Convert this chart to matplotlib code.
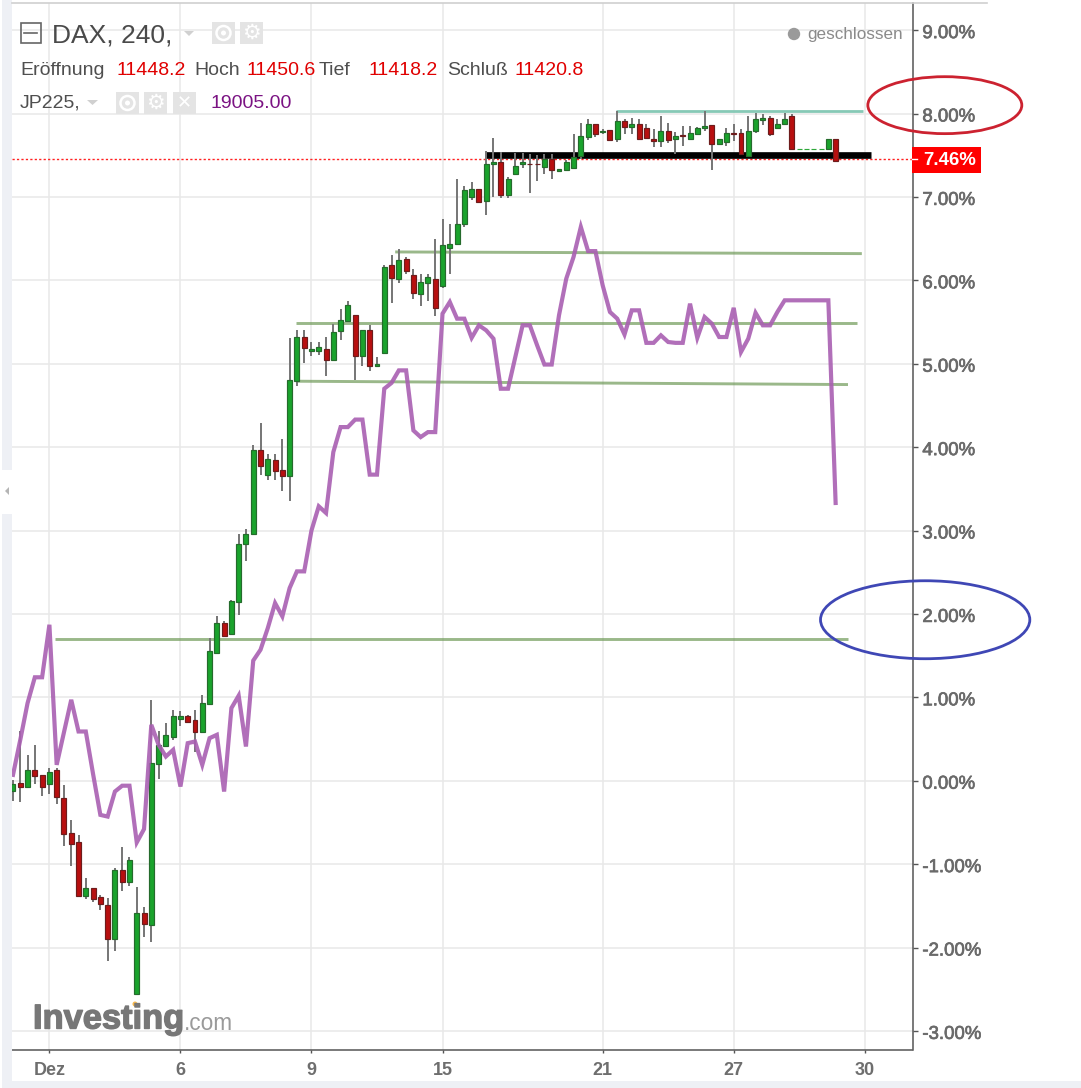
import numpy as np
import matplotlib
matplotlib.use("Agg")
import matplotlib.pyplot as plt
import matplotlib.patheffects as pe
from matplotlib.patches import Ellipse, Rectangle, Circle, Polygon
from matplotlib.transforms import ScaledTranslation

plt.rcParams['font.family'] = ['Liberation Sans', 'DejaVu Sans']

# DAX candles, values in percent
dax_open = [-.12, -.03, -.08, .13, .07, -.04, .13, -.21, -.63, -.73,
            -1.38, -1.29, -1.39, -1.49, -1.90, -1.07, -1.22, -2.56, -1.59, -1.73,
            .20, .42, .52, .74, .77, .73, .58, .92, 1.53, 1.89,
            1.76, 2.14, 2.84, 2.96, 3.96, 3.67, 3.84, 3.72, 3.65, 4.79,
            5.32, 5.15, 5.15, 5.18, 5.05, 5.39, 5.51, 5.58, 5.09, 5.40,
            4.97, 5.13, 6.18, 6.01, 6.26, 6.06, 5.83, 5.97, 6.02, 5.93,
            6.39, 6.44, 6.68, 7.00, 7.10, 6.95, 7.39, 7.42, 7.02, 7.27,
            7.39, 7.40, 7.40, 7.36, 7.45, 7.31, 7.32, 7.35, 7.49, 7.72,
            7.87, 7.78, 7.80, 7.70, 7.91, 7.84, 7.87, 7.83, 7.69, 7.67,
            7.79, 7.69, 7.74, 7.70, 7.76, 7.83, 7.86, 7.64, 7.66, 7.77,
            7.77, 7.49, 7.79, 7.92, 7.95, 7.83, 7.88, 7.97, 7.57, 7.57,
            7.57, 7.57, 7.57, 7.69]
dax_high = [.01, .59, .31, .43, .07, .15, .15, -.05, -.47, -.65,
            -1.17, -1.29, -1.37, -1.41, -1.05, -.79, -.91, -1.27, -1.51, .97,
            .59, .69, .85, .83, .79, .85, 1.03, 1.71, 1.97, 1.91,
            2.17, 2.96, 3.02, 4.02, 4.29, 3.92, 3.92, 4.10, 5.31, 5.41,
            5.41, 5.26, 5.26, 5.32, 5.48, 5.66, 5.75, 5.58, 5.40, 5.46,
            5.08, 6.18, 6.30, 6.38, 6.28, 6.14, 6.08, 6.08, 6.49, 6.73,
            6.68, 7.22, 7.13, 7.18, 7.10, 7.55, 7.71, 7.54, 7.24, 7.53,
            7.53, 7.52, 7.50, 7.51, 7.51, 7.33, 7.44, 7.75, 7.89, 7.93,
            7.87, 7.82, 7.80, 8.03, 7.93, 7.95, 7.93, 7.87, 7.81, 7.97,
            7.89, 7.78, 7.85, 7.85, 7.84, 8.03, 7.86, 7.70, 7.83, 7.87,
            7.81, 7.97, 8.01, 7.99, 7.97, 7.93, 8.01, 7.99, 7.57, 7.57,
            7.57, 7.57, 7.69, 7.70]
dax_low = [-.24, -.26, -.08, -.04, -.18, -.16, -.28, -.78, -1.02, -1.38,
           -1.42, -1.46, -1.55, -2.16, -2.04, -1.32, -1.26, -2.56, -1.88, -1.94,
           .02, .42, .49, .66, .70, .35, .58, .92, 1.53, 1.73,
           1.76, 1.99, 2.64, 2.96, 3.67, 3.61, 3.60, 3.47, 3.35, 4.73,
           5.01, 5.09, 5.10, 4.85, 5.05, 5.29, 5.51, 4.80, 4.97, 4.91,
           4.97, 5.13, 5.73, 5.97, 6.07, 5.77, 5.69, 5.75, 5.57, 5.91,
           6.07, 6.44, 6.64, 6.96, 6.94, 6.78, 7.00, 6.99, 6.99, 7.27,
           7.35, 7.05, 7.19, 7.27, 7.21, 7.30, 7.31, 7.35, 7.46, 7.68,
           7.72, 7.76, 7.68, 7.66, 7.75, 7.75, 7.70, 7.71, 7.60, 7.60,
           7.65, 7.51, 7.61, 7.68, 7.75, 7.79, 7.32, 7.63, 7.61, 7.67,
           7.51, 7.48, 7.77, 7.86, 7.73, 7.81, 7.87, 7.57, 7.57, 7.57,
           7.57, 7.57, 7.57, 7.42]
dax_close = [-.04, -.08, .13, .06, -.08, .11, -.20, -.64, -.76, -1.38,
             -1.29, -1.42, -1.48, -1.90, -1.07, -1.22, -.95, -1.59, -1.72, .21,
             .43, .55, .77, .77, .70, .58, .93, 1.55, 1.89, 1.73,
             2.15, 2.84, 2.96, 3.96, 3.77, 3.86, 3.71, 3.65, 4.80, 5.32,
             5.19, 5.18, 5.20, 5.05, 5.38, 5.52, 5.70, 5.09, 5.40, 4.97,
             5.00, 6.16, 6.03, 6.24, 6.11, 5.85, 5.98, 6.04, 5.67, 6.42,
             6.44, 6.68, 7.08, 7.10, 6.94, 7.39, 7.42, 7.02, 7.22, 7.37,
             7.42, 7.39, 7.39, 7.45, 7.32, 7.33, 7.42, 7.48, 7.73, 7.87,
             7.76, 7.79, 7.68, 7.91, 7.84, 7.87, 7.70, 7.71, 7.67, 7.79,
             7.68, 7.73, 7.73, 7.77, 7.83, 7.85, 7.64, 7.69, 7.77, 7.76,
             7.51, 7.79, 7.93, 7.95, 7.76, 7.87, 7.93, 7.57, 7.57, 7.57,
             7.57, 7.57, 7.69, 7.43]

# JP225 compare line, percent
jp225 = [.07, .49, .93, 1.24, 1.24, 1.87, .19, .58, .97, .59,
         .59, .08, -.41, -.43, -.13, -.06, -.06, -.74, -.58, .67,
         .43, .29, .37, -.07, .45, .47, .19, .51, .55, -.13,
         .87, 1.02, .41, 1.44, 1.57, 1.83, 2.13, 1.97, 2.31, 2.51,
         2.51, 3.00, 3.29, 3.21, 3.94, 4.24, 4.24, 4.33, 4.33, 3.67,
         3.67, 4.70, 4.77, 4.92, 4.92, 4.20, 4.12, 4.18, 4.18, 5.60,
         5.74, 5.54, 5.54, 5.31, 5.46, 5.40, 5.30, 4.70, 4.70, 5.08,
         5.46, 5.46, 5.22, 4.99, 4.99, 5.58, 6.02, 6.28, 6.64, 6.35,
         6.35, 5.94, 5.62, 5.54, 5.35, 5.64, 5.64, 5.25, 5.25, 5.34,
         5.26, 5.25, 5.25, 5.72, 5.31, 5.56, 5.48, 5.32, 5.32, 5.67,
         5.14, 5.30, 5.61, 5.46, 5.46, 5.62, 5.76, 5.76, 5.76, 5.76,
         5.76, 5.76, 5.76, 3.33]

# drawn trend lines: x0, x1, y0, y1
green_lines = [(5.8, 114.7, 1.70, 1.70),
               (38.9, 114.7, 4.79, 4.75),
               (38.9, 115.9, 5.49, 5.49),
               (52.5, 116.6, 6.34, 6.32)]
teal_line = (82.9, 116.7, 8.03, 8.03)
black_line = (65, 117.8, 7.50, 7.50)
last_price = 7.46

x_ticks = [5, 23, 41, 59, 81, 99, 117]
x_labels = ['Dez', '6', '9', '15', '21', '27', '30']
y_ticks = [9, 8, 7, 6, 5, 4, 3, 2, 1, 0, -1, -2, -3]
y_labels = ['9.00%', '8.00%', '7.00%', '6.00%', '5.00%', '4.00%', '3.00%', '2.00%',
            '1.00%', '0.00%', '-1.00%', '-2.00%', '-3.00%']

W, H = 1081, 1088
fig = plt.figure(figsize=(W / 100, H / 100), dpi=100, facecolor='white')
ax = fig.add_axes([12 / W, 1 - 1050 / H, 900.5 / W, 1047 / H])
ax.set_xlim(-0.137, 123.56)
ax.set_ylim(-3.229, 9.325)
ax.set_facecolor('white')

ax.grid(True, color='#e8e8e8', lw=1.1)
ax.set_axisbelow(True)
ax.set_xticks(x_ticks)
ax.set_xticklabels(x_labels, fontweight='bold')
ax.set_yticks(y_ticks)
ax.set_yticklabels(y_labels)
ax.yaxis.tick_right()
ax.tick_params(axis='y', length=3.6, width=1, color='#555555', pad=3.5, labelsize=13.4, labelcolor='#6a6a6a')
ax.tick_params(axis='x', length=2.5, width=1, color='#555555', pad=6, labelsize=13, labelcolor='#6e6e6e')
for s in ['top', 'left']:
    ax.spines[s].set_visible(False)
for s in ['right', 'bottom']:
    ax.spines[s].set_color('#555555')
    ax.spines[s].set_linewidth(1.1)
shift = ScaledTranslation(0, -1.5 / 100, fig.dpi_scale_trans)
for lab in ax.get_yticklabels():
    lab.set_transform(lab.get_transform() + shift)
    lab.set_path_effects([pe.withStroke(linewidth=0.5, foreground='#6a6a6a')])

ax.axhline(last_price, color='#ff2020', lw=1, ls=(0, (1.6, 1.6)), zorder=2)

# horizontal trend lines
for x0, x1, y0, y1 in green_lines:
    ax.plot([x0, x1], [y0, y1], color='#6f9a58', alpha=0.7, lw=2.1, zorder=2, solid_capstyle='butt')
ax.plot(teal_line[:2], teal_line[2:], color='#86c9b6', lw=2, zorder=2, solid_capstyle='butt')
ax.plot(black_line[:2], black_line[2:], color='black', lw=4.8, zorder=2, solid_capstyle='butt')

# candles
o = np.array(dax_open)
h = np.array(dax_high)
l = np.array(dax_low)
c = np.array(dax_close)
idx = np.arange(len(o))
up = c >= o
flat = h == l
ax.vlines(idx, l, h, color='#757575', lw=1.4, zorder=3)
ax.bar(idx[up], (c - o)[up], bottom=o[up], width=0.68, color='#1aa32c',
       edgecolor=np.where(flat[up], '#2ea83a', '#256b2c'), lw=0.85, zorder=4)
ax.bar(idx[~up], (o - c)[~up], bottom=c[~up], width=0.68, color='#b80f0f', edgecolor='#6d1c1c', lw=0.85, zorder=4)

ax.plot(idx, jp225, color='#a95fb2', lw=3, alpha=0.9, zorder=5, solid_joinstyle='miter')

# hand drawn circles
ax.add_patch(Ellipse((128, 8.10), 21.15, 0.683, fill=False, ec='#cc2230', lw=2, zorder=8, clip_on=False))
ax.add_patch(Ellipse((125.3, 1.93), 28.75, 0.935, fill=False, ec='#3f47b5', lw=2, zorder=8, clip_on=False))

# page furniture and header, in pixels
ov = fig.add_axes([0, 0, 1, 1], facecolor='none')
ov.set_xlim(0, W)
ov.set_ylim(H, 0)
ov.axis('off')

ov.add_patch(Rectangle((2, 0), 10, H, color='#eef0f5', lw=0))
ov.add_patch(Rectangle((2, 470), 10, 44, color='white', lw=0))
ov.add_patch(Polygon([(5, 491), (9, 487), (9, 495)], color='#b5b5b5', lw=0))
ov.add_patch(Rectangle((12, 1081), W - 12, 7, color='#eef0f5', lw=0))
ov.plot([12, 987], [2.5, 2.5], color='#cfcfcf', lw=1.2)

# collapse box
ov.add_patch(Rectangle((20.5, 23), 20, 20, fill=False, ec='#666666', lw=1.2))
ov.plot([24, 37], [33, 33], color='#666666', lw=1.2)
ov.text(52, 35.5, 'DAX, 240,', fontsize=19, color='#4a4a4a', va='center', ha='left')
ov.add_patch(Polygon([(184, 31), (194, 31), (189, 36)], color='#d0d0d0', lw=0))


def icon_box(x, y, kind):
    ov.add_patch(Rectangle((x, y), 23, 22, color='#e4e4e4', lw=0))
    cx, cy = x + 11.5, y + 11
    if kind == 'eye':
        ov.add_patch(Circle((cx, cy), 7, fill=False, ec='white', lw=1.8))
        ov.add_patch(Circle((cx, cy), 2.5, color='white', lw=0))
    elif kind == 'gear':
        ov.text(cx, cy, '\u2699', color='white', fontsize=15, ha='center', va='center', family='DejaVu Sans')
    else:
        ov.text(cx, cy, '\u2715', color='white', fontsize=13, ha='center', va='center', family='DejaVu Sans')


icon_box(212, 22, 'eye')
icon_box(240, 22, 'gear')
icon_box(116, 92, 'eye')
icon_box(144, 92, 'gear')
icon_box(173, 92, 'x')

row = [(20, 'Eröffnung', '#4f4f4f'), (116, '11448.2', '#e00000'), (194, 'Hoch', '#4f4f4f'),
       (247, '11450.6', '#e00000'), (319, 'Tief', '#4f4f4f'), (369, '11418.2', '#e00000'),
       (447, 'Schluß', '#4f4f4f'), (514, '11420.8', '#e00000')]
for x, t, col in row:
    ov.text(x, 70.5, t, fontsize=14, color=col, va='center', ha='left')
ov.text(20, 103, 'JP225,', fontsize=14, color='#4f4f4f', va='center', ha='left')
ov.add_patch(Polygon([(87, 100), (98, 100), (92.5, 105)], color='#d0d0d0', lw=0))
ov.text(210, 104, '19005.00', fontsize=14, color='#7b1383', va='center', ha='left')

ov.add_patch(Circle((794, 34), 6.2, color='#9a9a9a', lw=0))
ov.text(807, 34.5, 'geschlossen', fontsize=12.3, color='#8a8a8a', va='center', ha='left')

# last price tag
ov.add_patch(Rectangle((912, 147), 69, 26, color='#ff0000', lw=0))
ov.plot([912, 917], [158.5, 158.5], color='white', lw=1)
ov.text(923, 160.5, '7.46%', fontsize=13.4, color='white', fontweight='bold', va='center', ha='left')

# watermark
ov.text(33, 1020, 'Investing', fontsize=24.8, fontweight='bold', color='#777777', va='center', ha='left',
        path_effects=[pe.withStroke(linewidth=1, foreground='#777777')])
ov.text(184, 1024, '.com', fontsize=16.3, color='#9a9a9a', va='center', ha='left')
ov.add_patch(Circle((135, 1004), 2.5, color='#f5b850', lw=0))

fig.savefig('out.png', dpi=100)
